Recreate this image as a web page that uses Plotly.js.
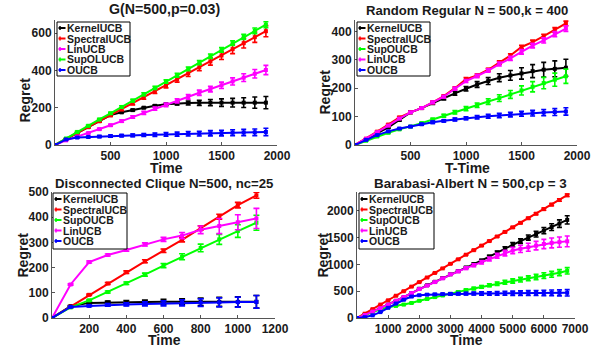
<!DOCTYPE html>
<html><head><meta charset="utf-8">
<script src="https://cdn.plot.ly/plotly-3.0.1.min.js"></script>
<style>html,body{margin:0;padding:0;background:#fff}#chart{width:601px;height:348px}</style>
</head><body><div id="chart"></div>
<script>
// ---------- DATA ----------
// Panel 1: G(N=500,p=0.03)
const p1_x = [0,100,200,300,400,500,600,700,800,900,1000,1100,1200,1300,1400,1500,1600,1700,1800,1900];
const p1_names = ['KernelUCB','SpectralUCB','LinUCB','SupOLUCB','OUCB'];
const p1_kernel = [0,32,64,96,128,160,175,187,200,210,218,222,225,226,227,227,227,227,227,227];
const p1_kernel_err = [0,1,2,2,3,3,3,4,4,5,6,8,11,14,17,20,23,26,30,33];
const p1_spectral = [0,32,64,96,128,160,192,224,256,288,320,352,384,416,448,480,514,546,578,610];
const p1_spectral_err = [0,2,3,4,6,7,8,9,11,12,14,15,17,18,20,22,24,26,28,30];
const p1_lin = [0,25,45,64,85,106,128,150,172,195,215,237,258,280,300,320,341,361,382,402];
const p1_lin_err = [0,1,2,3,4,5,6,7,8,9,10,11,13,14,15,17,19,21,23,25];
const p1_supol = [0,35,70,103,137,170,204,238,272,306,340,374,408,442,476,510,546,580,612,645];
const p1_supol_err = [0,2,3,4,5,5,6,7,8,8,9,10,10,11,12,13,13,14,15,16];
const p1_oucb = [0,30,40,43,45,48,50,52,54,55,57,58,60,61,63,64,66,67,68,70];
const p1_oucb_err = [0,2,3,4,5,6,6,7,8,9,10,11,12,13,14,15,16,17,18,20];

// Panel 2: Random Regular N = 500,k = 400
const p2_x = [0,100,200,300,400,500,600,700,800,900,1000,1100,1200,1300,1400,1500,1600,1700,1800,1900];
const p2_names = ['KernelUCB','SpectralUCB','SupOUCB','LinUCB','OUCB'];
const p2_kernel = [0,20,40,62,88,115,130,148,165,182,198,213,225,237,245,252,260,265,268,272];
const p2_kernel_err = [0,1,2,3,3,4,4,5,6,7,8,10,12,14,17,20,23,26,28,30];
const p2_spectral = [0,22,47,72,97,115,130,150,172,200,232,245,265,290,315,345,362,383,405,428];
const p2_spectral_err = [0,1,2,2,3,3,3,4,4,4,5,5,5,6,6,6,7,7,8,8];
const p2_sup = [0,15,30,43,55,65,77,90,103,115,128,140,153,165,178,192,205,218,230,242];
const p2_sup_err = [0,1,1,2,2,3,3,4,5,6,7,8,10,12,14,16,18,20,23,25];
const p2_lin = [0,22,45,68,93,115,130,150,170,198,225,243,262,285,305,328,350,368,390,410];
const p2_lin_err = [0,1,2,2,3,3,3,4,4,5,5,6,6,7,7,8,8,9,9,10];
const p2_oucb = [0,18,35,48,58,65,73,80,85,90,94,98,101,104,107,110,112,114,116,118];
const p2_oucb_err = [0,1,1,2,2,3,3,4,4,5,5,6,7,8,8,9,10,11,12,13];

// Panel 3: Disconnected Clique N=500, nc=25
const p3_x = [0,100,200,300,400,500,600,700,800,900,1000,1100];
const p3_names = ['KernelUCB','SpectralUCB','SupOUCB','LinUCB','OUCB'];
const p3_kernel = [0,47,60,62,63,63,64,64,64,64,64,64];
const p3_kernel_err = [0,2,3,5,6,8,10,12,15,18,20,25];
const p3_spectral = [0,45,92,137,182,225,267,310,357,402,448,487];
const p3_spectral_err = [0,2,3,4,5,6,7,8,9,10,11,12];
const p3_sup = [0,42,70,103,138,172,208,243,278,312,345,378];
const p3_sup_err = [0,2,3,4,5,6,8,12,15,20,25,30];
const p3_lin = [0,133,222,250,270,292,312,327,350,365,380,395];
const p3_lin_err = [0,3,4,4,5,6,8,12,15,30,30,40];
const p3_oucb = [0,44,48,52,54,56,58,60,61,62,63,64];
const p3_oucb_err = [0,2,3,5,6,8,10,12,15,18,20,25];

// Panel 4: Barabasi-Albert N = 500,cp = 3
const p4_x = [0,250,500,750,1000,1250,1500,1750,2000,2250,2500,2750,3000,3250,3500,3750,4000,4250,4500,4750,5000,5250,5500,5750,6000,6250,6500,6750];
const p4_names = ['KernelUCB','SpectralUCB','SupOUCB','LinUCB','OUCB'];
const p4_kernel = [0,55,120,185,250,320,390,465,545,610,675,745,815,875,940,1005,1070,1145,1220,1295,1370,1435,1500,1565,1630,1695,1760,1830];
const p4_kernel_err = [0,2,3,4,5,6,7,8,9,10,11,12,14,16,18,20,23,26,30,34,38,43,48,53,58,64,70,76];
const p4_spectral = [0,80,165,250,330,415,500,585,670,755,840,925,1010,1095,1180,1265,1350,1435,1520,1605,1690,1775,1860,1945,2030,2115,2200,2290];
const p4_spectral_err = [0,1,2,2,3,3,4,4,5,6,6,7,8,8,9,10,11,12,13,14,15,16,17,18,19,20,22,24];
const p4_sup = [0,55,110,160,200,225,250,280,320,355,390,420,450,485,520,550,580,610,640,665,690,715,740,765,790,815,845,880];
const p4_sup_err = [0,1,2,3,4,5,6,7,8,9,11,13,15,17,19,22,25,28,32,36,40,43,46,50,53,56,58,60];
const p4_lin = [0,55,120,185,250,320,390,465,540,605,670,740,815,870,930,985,1040,1100,1160,1210,1260,1290,1320,1350,1380,1400,1415,1430];
const p4_lin_err = [0,2,3,4,5,6,7,8,9,10,12,14,16,19,23,28,33,38,45,52,60,67,74,80,86,92,96,100];
const p4_oucb = [0,15,50,110,190,270,340,400,425,435,440,445,450,452,454,455,457,458,460,461,462,463,465,466,467,468,469,470];
const p4_oucb_err = [0,1,2,3,4,5,6,8,10,12,14,17,20,22,25,27,30,32,35,37,40,42,45,47,50,53,56,60];

const titles = ['G(N=500,p=0.03)','Random Regular N = 500,k = 400','Disconnected Clique N=500, nc=25','Barabasi-Albert N = 500,cp = 3'];
const xTitles = ['Time','T-Time','Time','Time'];
const yTitle = 'Regret';
const xTicks = [[500,1000,1500,2000],[500,1000,1500,2000],[200,400,600,800,1000,1200],[1000,2000,3000,4000,5000,6000,7000]];
const yTicks = [[0,200,400,600],[0,100,200,300,400],[0,100,200,300,400,500],[0,500,1000,1500,2000]];

// ---------- STYLE / LAYOUT ----------
const colorOf = {KernelUCB:'#000000',SpectralUCB:'#ff0000',LinUCB:'#ff00ff',SupOLUCB:'#00ff00',SupOUCB:'#00ff00',OUCB:'#0000ff'};
const W = 601, H = 348;
const FONT = '"Liberation Sans", Arial, Helvetica, sans-serif';
const TXT = '#1a1a1a';
const AXC = '#555555';

const panels = [
  {x:p1_x, names:p1_names, ys:[p1_kernel,p1_spectral,p1_lin,p1_supol,p1_oucb], es:[p1_kernel_err,p1_spectral_err,p1_lin_err,p1_supol_err,p1_oucb_err],
   box:[55,20,277,145], xr:[0,2000], yr:[0,670], leg:[57,22,130,76], cap:2.5,
   tpos:[164,9.5], tsize:14.2, xtpos:[166.5,167.5], ytpos:[24.5,100]},
  {x:p2_x, names:p2_names, ys:[p2_kernel,p2_spectral,p2_sup,p2_lin,p2_oucb], es:[p2_kernel_err,p2_spectral_err,p2_sup_err,p2_lin_err,p2_oucb_err],
   box:[355,20,577,145], xr:[0,2000], yr:[0,440], leg:[357,22,430,76], cap:2.5,
   tpos:[466.5,10], tsize:13.1, xtpos:[467.5,167.5], ytpos:[324.5,92]},
  {x:p3_x, names:p3_names, ys:[p3_kernel,p3_spectral,p3_sup,p3_lin,p3_oucb], es:[p3_kernel_err,p3_spectral_err,p3_sup_err,p3_lin_err,p3_oucb_err],
   box:[52,192,275,318], xr:[0,1200], yr:[0,500], leg:[53,193,127,249], cap:3,
   tpos:[164,183], tsize:13.2, xtpos:[164,339.5], ytpos:[22.5,255]},
  {x:p4_x, names:p4_names, ys:[p4_kernel,p4_spectral,p4_sup,p4_lin,p4_oucb], es:[p4_kernel_err,p4_spectral_err,p4_sup_err,p4_lin_err,p4_oucb_err],
   box:[357,192,575,318], xr:[0,7000], yr:[0,2350], leg:[359,193,434,249], cap:2.5,
   tpos:[470,183], tsize:13.4, xtpos:[466.5,339.5], ytpos:[322.5,255]}
];

const fx = v => v / W;
const fy = v => 1 - v / H;

const data = [];
const layout = {
  width: W, height: H,
  margin: {l:0, r:0, t:0, b:0},
  paper_bgcolor: '#fff', plot_bgcolor: '#fff',
  showlegend: false,
  font: {family: FONT, color: TXT, size: 12, weight: 'bold'},
  annotations: [], shapes: []
};

const bold = (size) => ({family: FONT, size: size, color: TXT, weight: 'bold'});

panels.forEach((p, i) => {
  const n = i + 1;
  const xa = 'x' + (n === 1 ? '' : n), ya = 'y' + (n === 1 ? '' : n);
  const [L, T, R, B] = p.box;
  const axBase = {
    showgrid: false, zeroline: false, showline: true, mirror: false,
    linecolor: AXC, linewidth: 1, ticks: 'inside', ticklen: 3, tickcolor: AXC, tickwidth: 1,
    tickfont: bold(12), tickmode: 'array'
  };
  layout['xaxis' + (n === 1 ? '' : n)] = Object.assign({}, axBase, {
    domain: [fx(L), fx(R)], range: p.xr, anchor: ya, tickvals: xTicks[i]
  });
  layout['yaxis' + (n === 1 ? '' : n)] = Object.assign({}, axBase, {
    domain: [fy(B), fy(T)], range: p.yr, anchor: xa, tickvals: yTicks[i]
  });
  p.names.forEach((nm, k) => {
    data.push({
      type: 'scatter', mode: 'lines+markers', x: p.x, y: p.ys[k], name: nm,
      xaxis: xa, yaxis: ya,
      line: {color: colorOf[nm], width: 2},
      marker: {symbol: 'square', size: 4, color: colorOf[nm]},
      error_y: {type: 'data', array: p.es[k], visible: true, color: colorOf[nm], thickness: 1.6, width: p.cap}
    });
  });
  // subplot title
  layout.annotations.push({
    text: titles[i], xref: 'paper', yref: 'paper', x: fx(p.tpos[0]), y: fy(p.tpos[1]),
    xanchor: 'center', yanchor: 'middle', showarrow: false, font: bold(p.tsize)
  });
  // axis titles
  layout.annotations.push({
    text: xTitles[i], xref: 'paper', yref: 'paper', x: fx(p.xtpos[0]), y: fy(p.xtpos[1]),
    xanchor: 'center', yanchor: 'middle', showarrow: false, font: bold(14)
  });
  layout.annotations.push({
    text: yTitle, xref: 'paper', yref: 'paper', x: fx(p.ytpos[0]), y: fy(p.ytpos[1]),
    xanchor: 'center', yanchor: 'middle', showarrow: false, textangle: -90, font: bold(14)
  });
  // legend box
  const [lx0, ly0, lx1, ly1] = p.leg;
  layout.shapes.push({type: 'rect', xref: 'paper', yref: 'paper', x0: fx(lx0), x1: fx(lx1), y0: fy(ly1), y1: fy(ly0),
    line: {color: '#000', width: 1}, fillcolor: '#fff', layer: 'above'});
  p.names.forEach((nm, k) => {
    const cy = ly0 + 6 + k * 10.5;
    layout.shapes.push({type: 'line', xref: 'paper', yref: 'paper', x0: fx(lx0 + 1.5), x1: fx(lx0 + 8.5), y0: fy(cy), y1: fy(cy),
      line: {color: colorOf[nm], width: 2}, layer: 'above'});
    layout.shapes.push({type: 'line', xref: 'paper', yref: 'paper', x0: fx(lx0 + 3), x1: fx(lx0 + 3), y0: fy(cy - 2), y1: fy(cy + 2),
      line: {color: colorOf[nm], width: 1.5}, layer: 'above'});
    layout.annotations.push({text: nm, xref: 'paper', yref: 'paper', x: fx(lx0 + 8), y: fy(cy),
      xanchor: 'left', yanchor: 'middle', showarrow: false, font: bold(10.5)});
  });
});

Plotly.newPlot('chart', data, layout, {displayModeBar: false, staticPlot: true});
</script></body></html>
